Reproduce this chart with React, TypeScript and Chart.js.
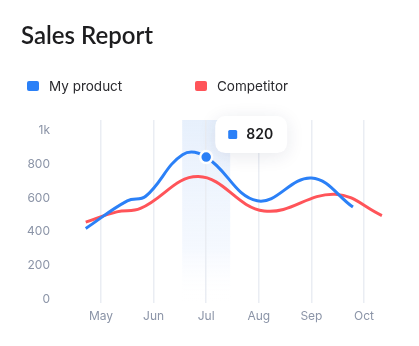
import React, { useEffect, useRef } from "react";
import { Chart, registerables } from "chart.js";

Chart.register(...registerables);

const months = ["May", "Jun", "Jul", "Aug", "Sep", "Oct"];
const yTicks = [0, 200, 400, 600, 800, 1000];

// x = month index (May = 0), y = sales
const myProductX = [-0.29, 0.5, 0.85, 1.55, 2, 2.97, 4.0, 4.79];
const myProductY = [420, 583, 610, 855, 841, 583, 718, 546];
const competitorX = [-0.29, 0.3, 0.75, 1.85, 3.1, 4.45, 5.34];
const competitorY = [457, 518, 538, 726, 523, 622, 496];

const highlightMonth = 2;
const tooltipValue = "820";

const BLUE = "#2b80f7";
const RED = "#ff5459";

const bandPlugin = {
  id: "band",
  beforeDraw(chart: any) {
    const { ctx, chartArea, scales } = chart;
    const cx = scales.x.getPixelForValue(highlightMonth);
    const half = 24;
    const g = ctx.createLinearGradient(0, chartArea.top, 0, chartArea.bottom);
    g.addColorStop(0, "rgba(228,238,252,0.9)");
    g.addColorStop(0.7, "rgba(238,244,254,0.6)");
    g.addColorStop(1, "rgba(255,255,255,0)");
    ctx.save();
    ctx.fillStyle = g;
    ctx.fillRect(cx - half, chartArea.top, half * 2, chartArea.bottom - chartArea.top);
    ctx.restore();
  },
};

const tipPlugin = {
  id: "tip",
  afterDraw(chart: any) {
    const { ctx } = chart;
    const meta = chart.getDatasetMeta(0);
    const idx = myProductX.indexOf(highlightMonth);
    const el = meta.data[idx];
    if (!el) return;
    const px = el.x;
    const py = el.y;
    const w = 72;
    const h = 37;
    const left = px + 9;
    const top = py - 41;
    ctx.save();
    ctx.shadowColor = "rgba(30,40,80,0.10)";
    ctx.shadowBlur = 18;
    ctx.shadowOffsetY = 3;
    ctx.fillStyle = "#ffffff";
    ctx.beginPath();
    ctx.roundRect(left, top, w, h, 10);
    ctx.fill();
    ctx.shadowColor = "transparent";
    ctx.fillStyle = BLUE;
    ctx.beginPath();
    ctx.roundRect(left + 13, top + h / 2 - 4.5, 9, 9, 1.5);
    ctx.fill();
    ctx.fillStyle = "#1c1c1e";
    ctx.font = "600 14px Inter";
    ctx.textBaseline = "middle";
    ctx.textAlign = "left";
    ctx.fillText(tooltipValue, left + 31, top + h / 2 + 0.5);
    ctx.restore();
  },
};

export default function App() {
  const ref = useRef<HTMLCanvasElement | null>(null);

  useEffect(() => {
    document.body.style.margin = "0";
    const canvas = ref.current!;
    const chart = new Chart(canvas, {
      type: "line",
      data: {
        datasets: [
          {
            label: "My product",
            data: myProductX.map((x, i) => ({ x, y: myProductY[i] })),
            borderColor: BLUE,
            backgroundColor: BLUE,
            borderWidth: 3,
            tension: 0.4,
            pointRadius: (c: any) => (c.raw && c.raw.x === highlightMonth ? 6 : 0),
            pointHoverRadius: 0,
            pointBorderColor: "#ffffff",
            pointBorderWidth: 2.5,
            pointBackgroundColor: BLUE,
            order: 0,
          },
          {
            label: "Competitor",
            data: competitorX.map((x, i) => ({ x, y: competitorY[i] })),
            borderColor: RED,
            backgroundColor: RED,
            borderWidth: 3,
            tension: 0.4,
            pointRadius: 0,
            order: 1,
          },
        ],
      },
      options: {
        responsive: false,
        animation: false,
        events: [],
        layout: { padding: { top: 120, right: 19, left: 0, bottom: 0 } },
        plugins: {
          legend: { display: false },
          tooltip: { enabled: false },
        },
        scales: {
          x: {
            type: "linear",
            min: -0.665,
            max: 5.684,
            afterBuildTicks: (s: any) => {
              s.ticks = months.map((_, i) => ({ value: i }));
            },
            afterFit: (s: any) => {
              s.height = 43;
            },
            ticks: {
              callback: (v: any) => months[v as number] ?? "",
              color: "#8b94a7",
              font: { family: "Inter", size: 12 },
              padding: 6,
              maxRotation: 0,
              autoSkip: false,
            },
            grid: { color: "#eaedf3", lineWidth: 1.5, drawTicks: false },
            border: { display: false },
          },
          y: {
            min: -20,
            max: 1060,
            afterBuildTicks: (s: any) => {
              s.ticks = yTicks.map((v) => ({ value: v }));
            },
            afterFit: (s: any) => {
              s.width = 66;
            },
            ticks: {
              callback: (v: any) => (v === 1000 ? "1k" : String(v)),
              color: "#8b94a7",
              font: { family: "Inter", size: 12 },
              padding: 16,
            },
            grid: { display: false, drawTicks: false },
            border: { display: false },
          },
        },
      },
      plugins: [bandPlugin, tipPlugin],
    });
    return () => chart.destroy();
  }, []);

  return (
    <div style={{ position: "relative", width: 419, height: 346, background: "#fff", fontFamily: "Inter" }}>
      <canvas ref={ref} width={419} height={346} style={{ position: "absolute", left: 0, top: 0 }} />
      <div
        style={{
          position: "absolute",
          left: 21,
          top: 23,
          fontSize: 24,
          lineHeight: "24px",
          fontWeight: 600,
          color: "#1d1d1f",
          fontFamily: "Lato, Inter",
          whiteSpace: "nowrap",
        }}
      >
        Sales Report
      </div>
      {[
        { label: "My product", color: BLUE, left: 27 },
        { label: "Competitor", color: RED, left: 195 },
      ].map((it) => (
        <div
          key={it.label}
          style={{
            position: "absolute",
            left: it.left,
            top: 79,
            height: 14,
            display: "flex",
            alignItems: "center",
            fontSize: 13.5,
            color: "#2a2a2e",
            whiteSpace: "nowrap",
          }}
        >
          <span style={{ width: 12, height: 10, borderRadius: 2, background: it.color, marginRight: 10, display: "inline-block" }} />
          {it.label}
        </div>
      ))}
    </div>
  );
}
